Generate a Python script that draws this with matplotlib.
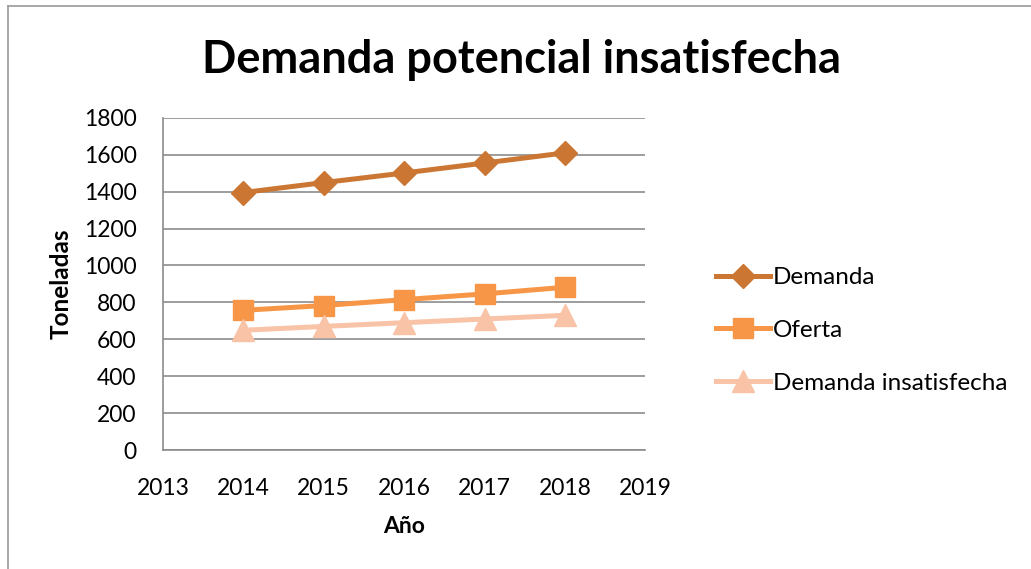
import matplotlib.pyplot as plt
from matplotlib.lines import Line2D

years = [2014, 2015, 2016, 2017, 2018]
demanda = [1395, 1449, 1501, 1555, 1610]
oferta = [757, 783, 815, 846, 882]
insatisfecha = [649, 670, 690, 710, 730]

plt.rcParams['font.family'] = ['Lato', 'DejaVu Sans']

fig = plt.figure(figsize=(10.31, 5.69), dpi=100)
ax = fig.add_axes([0.158, 0.209, 0.468, 0.584])

ax.plot(years, demanda, color='#CB7733', lw=3.6, marker='D', ms=12, label='Demanda', zorder=3)
ax.plot(years, oferta, color='#F79646', lw=3.6, marker='s', ms=14, label='Oferta', zorder=3)
ax.plot(years, insatisfecha, color='#F8C3A6', lw=3.6, marker='^', ms=16,
        label='Demanda insatisfecha', zorder=3)

ax.set_xlim(2013, 2019)
ax.set_ylim(0, 1800)
ax.set_xticks(range(2013, 2020))
ax.set_yticks(range(0, 1801, 200))
ax.tick_params(length=0, labelsize=16.5)
ax.tick_params(axis='y', pad=19)
ax.tick_params(axis='x', pad=20)
ax.yaxis.grid(True, color='#8C8C8C', lw=1.2)
for s in ['top', 'right']:
    ax.spines[s].set_visible(False)
for s in ['left', 'bottom']:
    ax.spines[s].set_color('#8C8C8C')
    ax.spines[s].set_linewidth(1.2)

ax.set_xlabel('Año', fontsize=16.5, fontweight='bold', labelpad=12)
ax.set_ylabel('Toneladas', fontsize=17.5, fontweight='bold', labelpad=8)

fig.text(0.506, 0.895, 'Demanda potencial insatisfecha', ha='center', va='center',
         fontsize=32.5, fontweight='bold')

ax.legend(loc='center left', bbox_to_anchor=(1.1, 0.36), frameon=False, fontsize=17.5,
          handlelength=2.25, handletextpad=0.1, labelspacing=1.3)

# marco del gráfico
fig.add_artist(Line2D([8 / 1031, 1], [1 - 6 / 569, 1 - 6 / 569], color='#9A9A9A', lw=1.2,
                      transform=fig.transFigure))
fig.add_artist(Line2D([8 / 1031, 8 / 1031], [0, 1 - 6 / 569], color='#9A9A9A', lw=1.2,
                      transform=fig.transFigure))

fig.savefig('out.png', dpi=100)
